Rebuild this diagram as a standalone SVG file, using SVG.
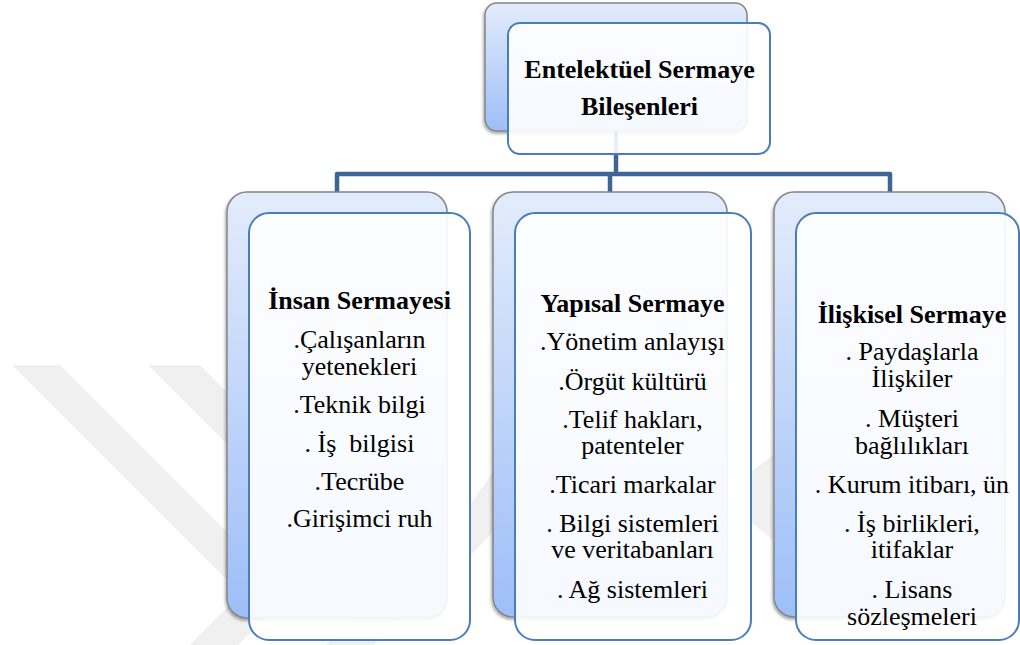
<svg xmlns="http://www.w3.org/2000/svg" width="1020" height="645" viewBox="0 0 1020 645">
  <defs>
    <linearGradient id="backGrad" x1="0" y1="0" x2="0" y2="1">
      <stop offset="0" stop-color="#e3ecfb"/>
      <stop offset="1" stop-color="#9dbef8"/>
    </linearGradient>
    <filter id="shadow" x="-10%" y="-10%" width="120%" height="120%">
      <feDropShadow dx="-1" dy="2" stdDeviation="1.5" flood-color="#000" flood-opacity="0.35"/>
    </filter>
    <style>
      .back { fill: url(#backGrad); stroke: #858585; stroke-width: 1.5; filter: url(#shadow); }
      .front { fill: #ffffff; fill-opacity: 0.9; stroke: #4a7ebb; stroke-width: 2; }
      .conn { fill: none; stroke: #3d6596; stroke-width: 4.5; stroke-linejoin: round; }
      .wm { fill: #f0f0f0; }
      .t { font-family: 'Liberation Serif', serif; font-size: 26px; fill: #000; text-anchor: middle; }
      .h { font-weight: bold; }
    </style>
  </defs>
  <rect width="1020" height="645" fill="#ffffff"/>

  <g id="watermark">
    <polygon class="wm" points="12,365 60,365 289,594 238,645 190,645 241,594"/>
    <polygon class="wm" points="148,365 200,365 425,590 374,645 326,645 377,594"/>
    <polygon class="wm" points="470,505 493,472 493,532 470,556"/>
    <polygon class="wm" points="751,472 773,455 773,540 751,522"/>
  </g>

  <g id="connectors">
    <path class="conn" d="M616,131 V174"/>
    <path class="conn" d="M337,192 V174 H890 V192"/>
    <path class="conn" d="M610,174 V192"/>
  </g>

  <g id="node-top">
    <rect class="back" x="485" y="3" width="262" height="128" rx="12"/>
    <rect class="front" x="508" y="23" width="262" height="131" rx="12"/>
    <text class="t h" x="639.5" y="78">Entelektüel Sermaye</text>
    <text class="t h" x="639.5" y="115">Bileşenleri</text>
  </g>

  <g id="node-insan">
    <rect class="back" x="227" y="192" width="220" height="426" rx="20"/>
    <rect class="front" x="249" y="213" width="221" height="427" rx="20"/>
    <text class="t h" x="359.5" y="309">İnsan Sermayesi</text>
    <text class="t" x="359.5" y="348">.Çalışanların</text>
    <text class="t" x="359.5" y="375">yetenekleri</text>
    <text class="t" x="359.5" y="413">.Teknik bilgi</text>
    <text class="t" x="359.5" y="452">. İş&#160; bilgisi</text>
    <text class="t" x="359.5" y="490">.Tecrübe</text>
    <text class="t" x="359.5" y="527">.Girişimci ruh</text>
  </g>

  <g id="node-yapisal">
    <rect class="back" x="493" y="192" width="234" height="425" rx="20"/>
    <rect class="front" x="515" y="213" width="236" height="427" rx="20"/>
    <text class="t h" x="632.5" y="312">Yapısal Sermaye</text>
    <text class="t" x="632.5" y="350">.Yönetim anlayışı</text>
    <text class="t" x="632.5" y="390">.Örgüt kültürü</text>
    <text class="t" x="632.5" y="428">.Telif hakları,</text>
    <text class="t" x="632.5" y="454">patenteler</text>
    <text class="t" x="632.5" y="493">.Ticari markalar</text>
    <text class="t" x="632.5" y="532">. Bilgi sistemleri</text>
    <text class="t" x="632.5" y="558">ve veritabanları</text>
    <text class="t" x="632.5" y="598">. Ağ sistemleri</text>
  </g>

  <g id="node-iliskisel">
    <rect class="back" x="774" y="192" width="231" height="425" rx="20"/>
    <rect class="front" x="796" y="213" width="223" height="427" rx="20"/>
    <text class="t h" x="912" y="323">İlişkisel Sermaye</text>
    <text class="t" x="912" y="360">. Paydaşlarla</text>
    <text class="t" x="912" y="387">İlişkiler</text>
    <text class="t" x="912" y="427">. Müşteri</text>
    <text class="t" x="912" y="454">bağlılıkları</text>
    <text class="t" x="912" y="493">. Kurum itibarı, ün</text>
    <text class="t" x="912" y="532">. İş birlikleri,</text>
    <text class="t" x="912" y="558">itifaklar</text>
    <text class="t" x="912" y="598">. Lisans</text>
    <text class="t" x="912" y="625">sözleşmeleri</text>
  </g>
</svg>
